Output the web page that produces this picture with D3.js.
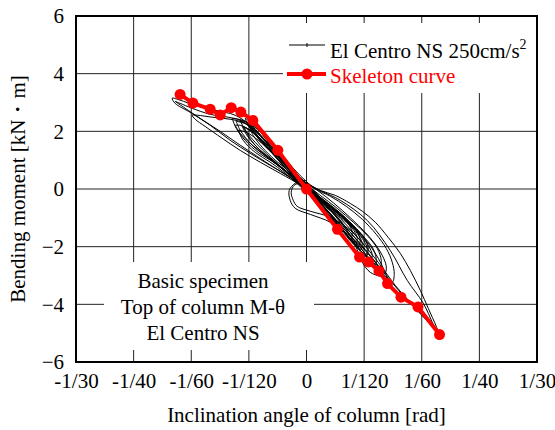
<!DOCTYPE html>
<html>
<head>
<meta charset="utf-8">
<script src="https://cdn.jsdelivr.net/npm/d3@7"></script>
<style>
  html, body { margin: 0; padding: 0; background: #fff; }
  svg { display: block; }
  text { font-family: "Liberation Serif", "Times New Roman", serif; }
</style>
</head>
<body>
<div id="chart"></div>
<script>
// Axis ticks
const xTicks = [-1/30, -1/40, -1/60, -1/120, 0, 1/120, 1/60, 1/40, 1/30];
const xTickLabels = ["-1/30", "-1/40", "-1/60", "-1/120", "0", "1/120", "1/60", "1/40", "1/30"];
const yTicks = [-6, -4, -2, 0, 2, 4, 6];

// Skeleton curve: column-top inclination angle [rad] and bending moment [kN·m]
const skeletonTheta = [-0.01828, -0.01643, -0.01393, -0.01248, -0.01089, -0.00949, -0.00776, -0.00414, 0,
                       0.00448, 0.00767, 0.00897, 0.01048, 0.01172, 0.01366, 0.01612, 0.01924];
const skeletonMoment = [3.28, 2.98, 2.77, 2.57, 2.82, 2.67, 2.38, 1.34, 0,
                        -1.40, -2.36, -2.53, -2.84, -3.28, -3.75, -4.09, -5.05];

// Measured M-θ response, El Centro NS 250 cm/s² ([θ rad, M kN·m])
const cycleA = [[-0.00019,0.13],[-0.00236,0.65],[-0.00453,1.34],[-0.00670,1.86],[-0.00815,2.21],[-0.01032,2.56],
  [-0.01321,2.73],[-0.01610,2.90],[-0.01827,3.08],[-0.01943,3.15],[-0.01900,2.97],[-0.01683,2.66],[-0.01393,2.21],
  [-0.01104,1.69],[-0.00815,1.24],[-0.00525,0.82],[-0.00236,0.41],[0.00054,-0.11],[0.00343,-0.74],[0.00632,-1.50],
  [0.00922,-2.30],[0.01139,-2.96],[0.01356,-3.58],[0.01573,-4.14],[0.01761,-4.62],[0.01920,-5.04],[0.01876,-4.76],
  [0.01761,-4.14],[0.01645,-3.51],[0.01500,-2.82],[0.01356,-2.23],[0.01182,-1.68],[0.00994,-1.15],[0.00806,-0.77],
  [0.00632,-0.50],[0.00415,-0.22],[0.00198,-0.05],[-0.00019,0.20]];
const cycleB = [[-0.01900,3.04],[-0.01755,2.80],[-0.01538,2.45],[-0.01249,2.00],[-0.00959,1.52],[-0.00670,1.06],
  [-0.00380,0.61],[-0.00091,0.16],[0.00198,-0.39],[0.00488,-1.02],[0.00777,-1.78],[0.01037,-2.54],[0.01283,-3.34],
  [0.01500,-3.93],[0.01717,-4.48],[0.01876,-4.90],[0.01819,-4.62],[0.01688,-3.96],[0.01457,-3.17],[0.01211,-2.13],
  [0.00878,-1.09],[0.00488,-0.39],[0.00198,-0.05],[-0.00091,0.37],[-0.00308,1.00],[-0.00525,1.59],[-0.00713,2.07],
  [-0.00887,2.35],[-0.01133,2.49],[-0.01393,2.59],[-0.01654,2.80],[-0.01827,2.97],[-0.01900,3.04]];
const cycleC = [[-0.00091,0.20],[-0.00308,0.82],[-0.00525,1.45],[-0.00713,1.97],[-0.00887,2.28],[-0.01104,2.42],
  [-0.01364,2.49],[-0.01581,2.56],[-0.01654,2.56],[-0.01610,2.42],[-0.01466,2.17],[-0.01220,1.76],[-0.00959,1.34],
  [-0.00670,0.93],[-0.00380,0.54],[-0.00091,0.13],[0.00198,-0.46],[0.00488,-1.09],[0.00705,-1.95],[0.00806,-2.54],
  [0.00922,-2.89],[0.01066,-3.03],[0.01168,-3.13],[0.01124,-2.82],[0.01037,-2.40],[0.00893,-1.88],[0.00705,-1.36],
  [0.00488,-0.91],[0.00227,-0.46],[-0.00019,-0.05]];
const cycleD = [[-0.00019,0.30],[-0.00163,0.20],[-0.00250,-0.05],[-0.00236,-0.39],[-0.00163,-0.67],[0.00054,-0.88],
  [0.00343,-1.15],[0.00632,-1.64],[0.00849,-2.13]];
const cycleE = [[-0.00048,0.23],[-0.00177,0.13],[-0.00221,-0.11],[-0.00192,-0.39],[-0.00135,-0.60],[0.00054,-0.77],
  [0.00343,-0.98],[0.00632,-1.43],[0.00849,-1.99]];
const cycleF = [[-0.00959,2.38],[-0.00887,2.04],[-0.00742,1.62],[-0.00525,1.10],[-0.00308,0.65],[-0.00091,0.20],
  [0.00126,-0.29],[0.00343,-0.84],[0.00560,-1.43],[0.00777,-2.02],[0.00922,-2.47],[0.00951,-2.30],[0.00893,-1.95],
  [0.00748,-1.50],[0.00560,-1.02],[0.00343,-0.57],[0.00126,-0.15],[-0.00091,0.30],[-0.00308,0.89],[-0.00525,1.48],
  [-0.00699,1.97],[-0.00844,2.28],[-0.00959,2.38]];
const cycleG = [[-0.01032,2.21],[-0.00959,1.93],[-0.00815,1.59],[-0.00598,1.17],[-0.00380,0.75],[-0.00163,0.30],
  [0.00054,-0.18],[0.00271,-0.74],[0.00488,-1.33],[0.00661,-1.78],[0.00777,-2.13],[0.00806,-1.88],[0.00734,-1.54],
  [0.00589,-1.15],[0.00386,-0.74],[0.00169,-0.32],[-0.00048,0.09],[-0.00236,0.54],[-0.00424,1.07],[-0.00627,1.62],
  [-0.00815,2.04],[-0.00959,2.21],[-0.01032,2.21]];
const cycleH = [[-0.00887,2.45],[-0.00844,2.21],[-0.00699,1.76],[-0.00496,1.27],[-0.00264,0.79],[-0.00048,0.30],
  [0.00169,-0.22],[0.00386,-0.81],[0.00632,-1.50],[0.00849,-2.13],[0.00994,-2.54],[0.01066,-2.75],[0.01081,-2.47],
  [0.01023,-2.06],[0.00878,-1.61],[0.00676,-1.15],[0.00444,-0.67],[0.00198,-0.22],[-0.00019,0.20],[-0.00236,0.72],
  [-0.00438,1.27],[-0.00598,1.76],[-0.00742,2.21],[-0.00887,2.45]];
const cycleI = [[-0.00815,2.11],[-0.00771,1.86],[-0.00641,1.45],[-0.00453,1.00],[-0.00236,0.58],[-0.00019,0.09],
  [0.00198,-0.46],[0.00415,-1.09],[0.00560,-1.50],[0.00632,-1.78],[0.00661,-1.50],[0.00589,-1.15],[0.00415,-0.74],
  [0.00198,-0.32],[-0.00019,0.13],[-0.00207,0.58],[-0.00380,1.06],[-0.00554,1.52],[-0.00699,1.90],[-0.00815,2.11]];
const cycleJ = [[-0.01075,2.45],[-0.01017,2.11],[-0.00887,1.69],[-0.00699,1.27],[-0.00453,0.89],[-0.00207,0.44],
  [0.00025,-0.05],[0.00242,-0.60],[0.00459,-1.16],[0.00661,-1.71],[0.00849,-2.30],[0.00878,-2.06],[0.00806,-1.71],
  [0.00661,-1.29],[0.00459,-0.84],[0.00227,-0.39],[0.00010,0.02],[-0.00207,0.47],[-0.00409,1.00],[-0.00627,1.62],
  [-0.00815,2.14],[-0.00959,2.38],[-0.01075,2.45]];
const cycleK = [[-0.00844,2.31],[-0.00786,2.04],[-0.00641,1.59],[-0.00438,1.10],[-0.00207,0.58],[0.00010,0.02],
  [0.00227,-0.57],[0.00459,-1.22],[0.00676,-1.88],[0.00893,-2.40],[0.01037,-2.68],[0.01139,-2.89],[0.01153,-2.68],
  [0.01095,-2.30],[0.00951,-1.78],[0.00748,-1.26],[0.00516,-0.74],[0.00271,-0.25],[0.00025,0.20],[-0.00192,0.72],
  [-0.00380,1.27],[-0.00554,1.79],[-0.00699,2.14],[-0.00844,2.31]];
const cycleL = [[-0.00988,2.04],[-0.00916,1.69],[-0.00742,1.27],[-0.00525,0.93],[-0.00308,0.55],[-0.00091,0.09],
  [0.00126,-0.39],[0.00343,-0.98],[0.00560,-1.54],[0.00705,-1.95],[0.00734,-1.71],[0.00661,-1.36],[0.00488,-0.98],
  [0.00271,-0.57],[0.00054,-0.15],[-0.00135,0.27],[-0.00308,0.72],[-0.00496,1.24],[-0.00699,1.69],[-0.00872,1.97],
  [-0.00988,2.04]];
const cycleM = [[-0.00930,2.18],[-0.00872,1.90],[-0.00728,1.48],[-0.00525,1.06],[-0.00308,0.65],[-0.00091,0.16],
  [0.00140,-0.36],[0.00372,-0.95],[0.00603,-1.64],[0.00806,-2.20],[0.00994,-2.65],[0.01008,-2.41],[0.00951,-2.02],
  [0.00806,-1.61],[0.00603,-1.16],[0.00372,-0.67],[0.00140,-0.25],[-0.00091,0.20],[-0.00279,0.65],[-0.00453,1.17],
  [-0.00641,1.69],[-0.00815,2.04],[-0.00930,2.18]];
const cycleN = [[-0.01017,2.35],[-0.00959,2.04],[-0.00786,1.52],[-0.00554,1.07],[-0.00323,0.65],[-0.00091,0.16],
  [0.00111,-0.32],[0.00314,-0.88],[0.00517,-1.43],[0.00661,-1.78],[0.00748,-1.99],[0.00777,-1.78],[0.00719,-1.43],
  [0.00574,-1.02],[0.00372,-0.60],[0.00140,-0.18],[-0.00062,0.23],[-0.00265,0.72],[-0.00467,1.31],[-0.00670,1.86],
  [-0.00872,2.25],[-0.01017,2.35]];
const cycleO = [[-0.00815,2.24],[-0.00728,1.90],[-0.00554,1.41],[-0.00323,0.93],[-0.00091,0.37],[0.00140,-0.18],
  [0.00372,-0.81],[0.00603,-1.50],[0.00835,-2.20],[0.01066,-2.82],[0.01240,-3.23],[0.01269,-2.96],[0.01240,-2.54],
  [0.01153,-2.06],[0.01008,-1.57],[0.00806,-1.05],[0.00574,-0.60],[0.00343,-0.25],[0.00111,0.02],[-0.00120,0.44],
  [-0.00323,1.00],[-0.00525,1.62],[-0.00699,2.07],[-0.00815,2.24]];
const cycleP = [[-0.00901,2.14],[-0.00829,1.79],[-0.00670,1.34],[-0.00453,0.93],[-0.00236,0.48],[-0.00019,-0.01],
  [0.00198,-0.57],[0.00430,-1.22],[0.00632,-1.78],[0.00777,-2.13],[0.00864,-2.33],[0.00893,-2.09],[0.00849,-1.74],
  [0.00719,-1.36],[0.00517,-0.91],[0.00285,-0.50],[0.00054,-0.08],[-0.00149,0.37],[-0.00352,0.93],[-0.00554,1.48],
  [-0.00742,1.90],[-0.00901,2.14]];

const responseCycles = [cycleA, cycleB, cycleC, cycleD, cycleE, cycleF, cycleG, cycleH,
                        cycleI, cycleJ, cycleK, cycleL, cycleM, cycleN, cycleO, cycleP];

const W = 555, H = 430;
const margin = { left: 76, right: 18, top: 16, bottom: 68 };
const iw = W - margin.left - margin.right;
const ih = H - margin.top - margin.bottom;
const FS = 21;

const svg = d3.select("#chart").append("svg").attr("width", W).attr("height", H);
const g = svg.append("g").attr("transform", `translate(${margin.left},${margin.top})`);

const x = d3.scaleLinear().domain([-1/30, 1/30]).range([0, iw]);
const y = d3.scaleLinear().domain([-6, 6]).range([ih, 0]);

// Grid
const grid = g.append("g").attr("class", "grid");
grid.selectAll("line.v").data(xTicks).join("line")
  .attr("class", "v")
  .attr("x1", d => x(d)).attr("x2", d => x(d))
  .attr("y1", 0).attr("y2", ih)
  .attr("stroke", "#222").attr("stroke-width", 1);
grid.selectAll("line.h").data(yTicks).join("line")
  .attr("class", "h")
  .attr("x1", 0).attr("x2", iw)
  .attr("y1", d => y(d)).attr("y2", d => y(d))
  .attr("stroke", "#222").attr("stroke-width", 1);

// White panels behind legend and caption
g.append("rect")
  .attr("x", 283 - margin.left).attr("y", 23 - margin.top)
  .attr("width", iw - (283 - margin.left)).attr("height", 70)
  .attr("fill", "#fff");
g.append("rect")
  .attr("x", 104 - margin.left).attr("y", 262 - margin.top)
  .attr("width", 210).attr("height", 88)
  .attr("fill", "#fff");

// Response loops
const line = d3.line()
  .x(d => x(d[0])).y(d => y(d[1]))
  .curve(d3.curveCatmullRom.alpha(0.5));
g.append("g").selectAll("path").data(responseCycles).join("path")
  .attr("d", line)
  .attr("fill", "none")
  .attr("stroke", "#000")
  .attr("stroke-width", 1);

// Skeleton curve
const skeleton = skeletonTheta.map((t, i) => [t, skeletonMoment[i]]);
g.append("path")
  .attr("d", d3.line().x(d => x(d[0])).y(d => y(d[1]))(skeleton))
  .attr("fill", "none")
  .attr("stroke", "#ff0000")
  .attr("stroke-width", 4)
  .attr("stroke-linejoin", "round");
g.append("g").selectAll("circle").data(skeleton).join("circle")
  .attr("cx", d => x(d[0])).attr("cy", d => y(d[1]))
  .attr("r", 5.5)
  .attr("fill", "#ff0000");

// Frame
g.append("rect")
  .attr("x", 0).attr("y", 0).attr("width", iw).attr("height", ih)
  .attr("fill", "none").attr("stroke", "#000").attr("stroke-width", 2);

// Axes labels
const xAxis = g.append("g").attr("transform", `translate(0,${ih})`)
  .call(d3.axisBottom(x).tickValues(xTicks).tickFormat((d, i) => xTickLabels[i]).tickSize(0).tickPadding(11));
const yAxis = g.append("g")
  .call(d3.axisLeft(y).tickValues(yTicks).tickFormat(d3.format("d")).tickSize(0).tickPadding(12));
[xAxis, yAxis].forEach(a => {
  a.select(".domain").remove();
  a.selectAll("text")
    .attr("font-family", '"Liberation Serif", serif')
    .attr("font-size", FS)
    .attr("fill", "#000");
});

svg.append("text")
  .attr("x", margin.left + x(0)).attr("y", 422)
  .attr("text-anchor", "middle")
  .attr("font-size", FS)
  .text("Inclination angle of column [rad]");
svg.append("text")
  .attr("transform", "translate(25,189) rotate(-90)")
  .attr("text-anchor", "middle")
  .attr("font-size", FS)
  .text("Bending moment [kN・m]");

// Legend
const lg = svg.append("g");
lg.append("line").attr("x1", 289).attr("x2", 325).attr("y1", 45).attr("y2", 45)
  .attr("stroke", "#000").attr("stroke-width", 1);
lg.append("line").attr("x1", 307).attr("x2", 307).attr("y1", 43).attr("y2", 47)
  .attr("stroke", "#000").attr("stroke-width", 1);
const t1 = lg.append("text").attr("x", 330).attr("y", 58).attr("font-size", FS).attr("fill", "#000");
t1.append("tspan").text("El Centro NS 250cm/s");
t1.append("tspan").attr("dy", -9).attr("font-size", 14).text("2");
lg.append("line").attr("x1", 287).attr("x2", 326).attr("y1", 74).attr("y2", 74)
  .attr("stroke", "#ff0000").attr("stroke-width", 4);
lg.append("circle").attr("cx", 307).attr("cy", 74).attr("r", 5.5).attr("fill", "#ff0000");
lg.append("text").attr("x", 330).attr("y", 82.5).attr("font-size", FS).attr("fill", "#ff0000")
  .text("Skeleton curve");

// Caption
const caption = ["Basic specimen", "Top of column M-θ", "El Centro NS"];
svg.append("g").selectAll("text").data(caption).join("text")
  .attr("x", 203).attr("y", (d, i) => 288 + i * 26)
  .attr("text-anchor", "middle")
  .attr("font-size", FS)
  .attr("fill", "#000")
  .text(d => d);
</script>
</body>
</html>
